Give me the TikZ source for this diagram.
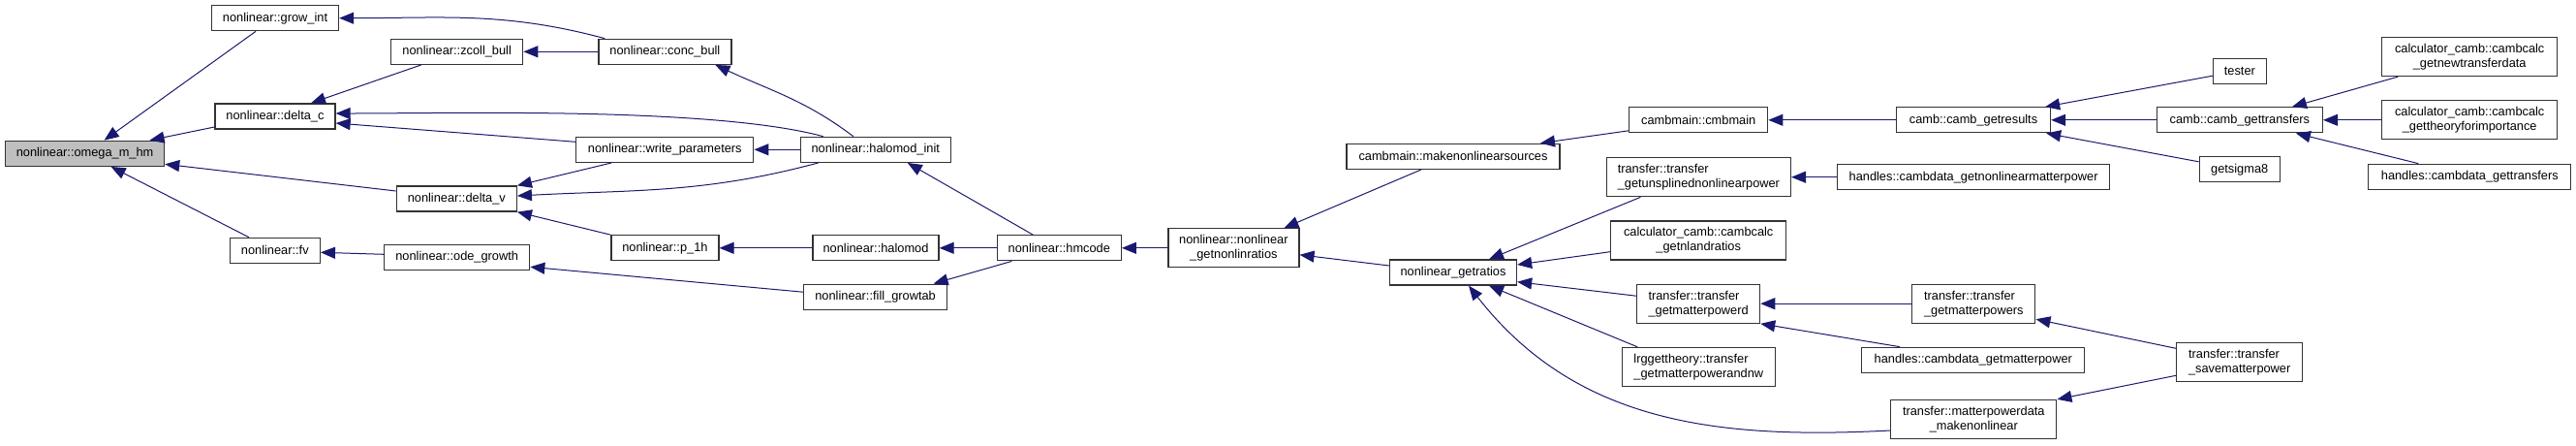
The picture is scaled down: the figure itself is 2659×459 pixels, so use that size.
\documentclass[tikz,border=0pt]{standalone}
\usepackage{fontspec}
\setmainfont{Liberation Sans}
\usetikzlibrary{arrows.meta}
\usetikzlibrary{shapes}
\definecolor{midnight}{HTML}{191970}

\begin{document}
\begin{tikzpicture}[x=1pt,y=1pt,
		fnbox/.style={draw=black!80, fill=white, line width=1.3pt, rectangle,
			font=\fontsize{12.8}{15}\selectfont, inner xsep=2pt, inner ysep=0pt,
			minimum height=26pt},
		twobox/.style={fnbox, minimum height=40pt},
		curbox/.style={fnbox, fill=black!25},
		callarrow/.style={{Triangle[length=15pt,width=12pt]}-, draw=midnight,
			line width=1pt}]
		% The page keeps the size of the original graph
		\useasboundingbox (0,0) rectangle (2659,-459);

		% Column 0: the function itself
		\node[curbox, minimum width=164pt] (omega) at (87.6,-158.3) {nonlinear::omega\_m\_hm};

		% Column 1
		\node[fnbox, minimum width=131pt] (growint) at (284,-18.7) {nonlinear::grow\_int};
		\node[fnbox, minimum width=124pt] (deltac) at (284,-120) {nonlinear::delta\_c};
		\node[fnbox, minimum width=93pt] (fv) at (283.8,-258.3) {nonlinear::fv};

		% Column 2
		\node[fnbox, minimum width=136pt] (zcoll) at (471.7,-53.3) {nonlinear::zcoll\_bull};
		\node[fnbox, minimum width=124pt] (deltav) at (471.3,-205) {nonlinear::delta\_v};
		\node[fnbox, minimum width=150pt] (odegrowth) at (471.7,-265.3) {nonlinear::ode\_growth};

		% Column 3
		\node[fnbox, minimum width=137pt] (concbull) at (686.4,-53.3) {nonlinear::conc\_bull};
		\node[fnbox, minimum width=183pt] (writeparam) at (686.3,-154.3) {nonlinear::write\_parameters};
		\node[fnbox, minimum width=111pt] (p1h) at (686.4,-255.8) {nonlinear::p\_1h};

		% Column 4
		\node[fnbox, minimum width=155pt] (halomodinit) at (903.8,-154.3) {nonlinear::halomod\_init};
		\node[fnbox, minimum width=130pt] (halomod) at (904,-255.8) {nonlinear::halomod};
		\node[fnbox, minimum width=148pt] (fillgrowtab) at (903.6,-306.2) {nonlinear::fill\_growtab};

		% Column 5 and 6
		\node[fnbox, minimum width=128pt] (hmcode) at (1093.3,-255.8) {nonlinear::hmcode};
		\node[twobox, minimum width=135pt, align=center] (getnonlinratios) at (1273.4,-255.8)
			{nonlinear::nonlinear\\\_getnonlinratios};

		% Column 7
		\node[fnbox, minimum width=220pt] (makenlsources) at (1500,-161.3) {cambmain::makenonlinearsources};
		\node[fnbox, minimum width=131pt] (getratios) at (1500,-281) {nonlinear\_getratios};

		% Column 8
		\node[fnbox, minimum width=143pt] (cmbmain) at (1753.2,-123.8) {cambmain::cmbmain};
		\node[twobox, minimum width=190pt, align=left] (unsplined) at (1753.4,-182.7)
			{transfer::transfer\\\_getunsplinednonlinearpower};
		\node[twobox, minimum width=181pt, align=center] (nlandratios) at (1753.2,-248)
			{calculator\_camb::cambcalc\\\_getnlandratios};
		\node[twobox, minimum width=127pt, align=left] (mpowerd) at (1753.1,-313.2)
			{transfer::transfer\\\_getmatterpowerd};
		\node[twobox, minimum width=158pt, align=left] (lrgtheory) at (1753.3,-378.5)
			{lrggettheory::transfer\\\_getmatterpowerandnw};

		% Column 9
		\node[fnbox, minimum width=159pt] (getresults) at (2037,-123.8) {camb::camb\_getresults};
		\node[fnbox, minimum width=281pt] (hnonlinmp) at (2037.1,-182.7) {handles::cambdata\_getnonlinearmatterpower};
		\node[twobox, minimum width=127pt, align=left] (mpowers) at (2037.3,-313.2)
			{transfer::transfer\\\_getmatterpowers};
		\node[fnbox, minimum width=230pt] (hgetmp) at (2036.8,-371.3) {handles::cambdata\_getmatterpower};
		\node[twobox, minimum width=171pt, align=center] (mpdnonlinear) at (2037.3,-432.5)
			{transfer::matterpowerdata\\\_makenonlinear};

		% Column 10
		\node[fnbox, minimum width=55pt] (tester) at (2311.9,-73.2) {tester};
		\node[fnbox, minimum width=171pt] (gettransfers) at (2311.9,-123.8) {camb::camb\_gettransfers};
		\node[fnbox, minimum width=83pt] (getsigma) at (2311.7,-174.8) {getsigma8};
		\node[twobox, minimum width=130pt, align=left] (savemp) at (2311.7,-373.3)
			{transfer::transfer\\\_savematterpower};

		% Column 11
		\node[twobox, minimum width=181pt, align=center] (newtransfer) at (2549.2,-58.5)
			{calculator\_camb::cambcalc\\\_getnewtransferdata};
		\node[twobox, minimum width=181pt, align=center] (theoryimp) at (2549.2,-123.8)
			{calculator\_camb::cambcalc\\\_gettheoryforimportance};
		\node[fnbox, minimum width=209pt] (hgettransfers) at (2549.3,-182.3) {handles::cambdata\_gettransfers};

		% Calls into omega_m_hm
		\draw[callarrow] ([xshift=20pt]omega.north) -- ([xshift=-20pt]growint.south);
		\draw[callarrow] ([xshift=67pt]omega.north) -- ([yshift=-11pt]deltac.west);
		\draw[callarrow] ([yshift=-11pt]omega.east) -- ([yshift=8pt]deltav.west);
		\draw[callarrow] ([xshift=27pt]omega.south) -- ([xshift=-27pt]fv.north);

		% Calls into the second column
		\draw[callarrow] ([xshift=37pt]deltac.north) -- ([xshift=-37pt]zcoll.south);
		\draw[callarrow] (growint.east) to[out=0,in=165] ([xshift=7pt]concbull.north west);
		\draw[callarrow] ([yshift=3pt]deltac.east) to[out=0,in=165,looseness=0.6]
			([xshift=24pt]halomodinit.north west);
		\draw[callarrow] ([yshift=-7pt]deltac.east) -- ([yshift=8pt]writeparam.west);
		\draw[callarrow] ([yshift=-2pt]fv.east) -- ([yshift=3pt]odegrowth.west);

		% Calls into the third column
		\draw[callarrow] (zcoll.east) -- (concbull.west);
		\draw[callarrow] (deltav.north east) -- ([xshift=-55pt]writeparam.south);
		\draw[callarrow] ([yshift=3pt]deltav.east) to[out=3,in=195] ([xshift=19pt]halomodinit.south west);
		\draw[callarrow] (deltav.south east) -- (p1h.north west);
		\draw[callarrow] ([yshift=-10pt]odegrowth.east) -- ([yshift=5pt]fillgrowtab.west);

		% Calls into the fourth column
		\draw[callarrow] ([xshift=52pt]concbull.south) to[out=-25,in=143] ([xshift=-23pt]halomodinit.north);
		\draw[callarrow] (writeparam.east) -- (halomodinit.west);
		\draw[callarrow] (p1h.east) -- (halomod.west);

		% hmcode and its callers
		\draw[callarrow] ([xshift=33pt]halomodinit.south) -- ([xshift=-27pt]hmcode.north);
		\draw[callarrow] (halomod.east) -- (hmcode.west);
		\draw[callarrow] ([xshift=60pt]fillgrowtab.north) -- ([xshift=-49pt]hmcode.south);
		\draw[callarrow] (hmcode.east) -- (getnonlinratios.west);
		\draw[callarrow] ([xshift=52pt]getnonlinratios.north) -- ([xshift=-33pt]makenlsources.south);
		\draw[callarrow] ([yshift=-7pt]getnonlinratios.east) -- ([yshift=7pt]getratios.west);

		% cambmain side
		\draw[callarrow] ([xshift=90pt]makenlsources.north) -- ([yshift=-11pt]cmbmain.west);
		\draw[callarrow] (cmbmain.east) -- (getresults.west);
		\draw[callarrow] ([xshift=-6pt]getresults.north east) -- ([yshift=-5pt]tester.west);
		\draw[callarrow] (getresults.east) -- (gettransfers.west);
		\draw[callarrow] ([xshift=-5pt]getresults.south east) -- ([yshift=8pt]getsigma.west);
		\draw[callarrow] ([xshift=54pt]gettransfers.north) -- ([xshift=-74pt]newtransfer.south);
		\draw[callarrow] (gettransfers.east) -- (theoryimp.west);
		\draw[callarrow] ([xshift=58pt]gettransfers.south) -- ([xshift=-53pt]hgettransfers.north);

		% Callers of nonlinear_getratios
		\draw[callarrow] ([xshift=37pt]getratios.north) -- ([xshift=-60pt]unsplined.south);
		\draw[callarrow] ([yshift=8pt]getratios.east) -- ([yshift=-11.7pt]nlandratios.west);
		\draw[callarrow] ([yshift=-9.7pt]getratios.east) -- ([yshift=8pt]mpowerd.west);
		\draw[callarrow] ([xshift=37pt]getratios.south) -- ([xshift=-63pt]lrgtheory.north);
		\draw[callarrow] ([xshift=16pt]getratios.south) to[out=-52,in=183]
			([yshift=-11.5pt]mpdnonlinear.west);

		% The transfer side
		\draw[callarrow] (unsplined.east) -- (hnonlinmp.west);
		\draw[callarrow] (mpowerd.east) -- (mpowers.west);
		\draw[callarrow] (mpowerd.south east) -- ([xshift=-76pt]hgetmp.north);
		\draw[callarrow] ([yshift=-16pt]mpowers.east) -- ([yshift=14pt]savemp.west);
		\draw[callarrow] (mpdnonlinear.north east) -- ([yshift=-14pt]savemp.west);
	\end{tikzpicture}
\end{document}
